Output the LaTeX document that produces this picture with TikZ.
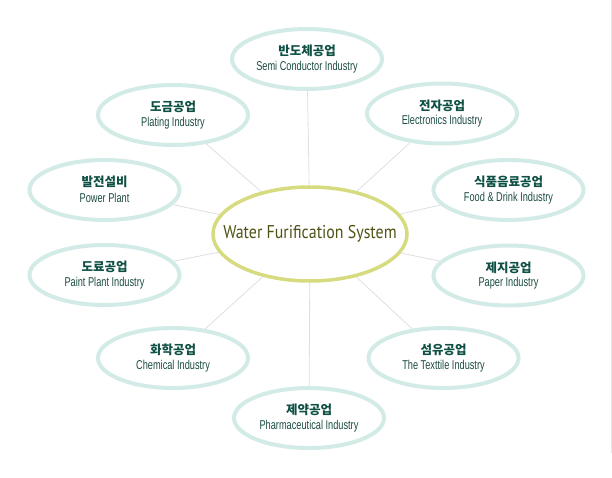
\documentclass[tikz,border=0pt]{standalone}
\usepackage{fontspec}
\usetikzlibrary{shapes.geometric,calc,backgrounds}
\newfontfamily\krfont{Noto Sans CJK KR}
\newfontfamily\enfont{Liberation Sans}[FakeStretch=0.72]
\newfontfamily\cenfont{PT Sans}[FakeStretch=0.86]
\definecolor{ring}{HTML}{D3EBE7}
\definecolor{cring}{HTML}{D5DB7E}
\definecolor{ktext}{HTML}{0E5044}
\definecolor{etext}{HTML}{1B4B42}
\definecolor{ctext}{HTML}{505214}
\definecolor{conn}{HTML}{DFDFDF}
\tikzset{
  outer/.style={ellipse, draw=ring, line width=4pt, minimum width=150pt, minimum height=60pt, inner sep=0pt},
  central/.style={ellipse, draw=cring, line width=3.5pt, minimum width=194pt, minimum height=94pt, inner sep=0pt},
  ctitle/.style={text=ctext, font=\cenfont\fontsize{18.5}{20}\selectfont, inner sep=0pt},
  kr/.style={text=ktext, font=\krfont\bfseries\fontsize{12.5}{14}\selectfont, inner sep=0pt},
  en/.style={text=etext, font=\enfont\fontsize{12.8}{14}\selectfont, inner sep=0pt},
  link/.style={draw=conn, line width=0.8pt}
}
\begin{document}
\begin{tikzpicture}[x=1pt,y=-1pt]
\useasboundingbox (0,0) rectangle (612,477);
\draw[draw=conn!80, line width=0.8pt] (611.4,0) -- (611.4,453);

\node[central] (c) at (310,234) {};
\node[ctitle] (ct) at (c.center) {Water Furification System};

\node[outer] (e1) at (307,59) {};
\node[outer] (e2) at (442,113.5) {};
\node[outer] (e3) at (508.5,190) {};
\node[outer] (e4) at (508.5,275.5) {};
\node[outer] (e5) at (443.5,358) {};
\node[outer] (e6) at (309,418) {};
\node[outer] (e7) at (173,358) {};
\node[outer] (e8) at (104.5,275) {};
\node[outer] (e9) at (104.5,190) {};
\node[outer] (e10) at (173,115) {};

\begin{scope}[on background layer]
\foreach \n in {e1,e2,e3,e4,e5,e6,e7,e8,e9,e10}
  \draw[link] (c) -- (\n);
\end{scope}

\node[kr] (k1) at ($(e1)+(0,-8)$) {반도체공업};
\node[en] (t1) at ($(e1)+(0,8)$) {Semi Conductor Industry};
\node[kr] (k2) at ($(e2)+(0,-8)$) {전자공업};
\node[en] (t2) at ($(e2)+(0,8)$) {Electronics Industry};
\node[kr] (k3) at ($(e3)+(0,-8)$) {식품음료공업};
\node[en] (t3) at ($(e3)+(0,8)$) {Food \& Drink Industry};
\node[kr] (k4) at ($(e4)+(0,-8)$) {제지공업};
\node[en] (t4) at ($(e4)+(0,8)$) {Paper Industry};
\node[kr] (k5) at ($(e5)+(0,-8)$) {섬유공업};
\node[en] (t5) at ($(e5)+(0,8)$) {The Texttile Industry};
\node[kr] (k6) at ($(e6)+(0,-8)$) {제약공업};
\node[en] (t6) at ($(e6)+(0,8)$) {Pharmaceutical Industry};
\node[kr] (k7) at ($(e7)+(0,-8)$) {화학공업};
\node[en] (t7) at ($(e7)+(0,8)$) {Chemical Industry};
\node[kr] (k8) at ($(e8)+(0,-8)$) {도료공업};
\node[en] (t8) at ($(e8)+(0,8)$) {Paint Plant Industry};
\node[kr] (k9) at ($(e9)+(0,-8)$) {발전설비};
\node[en] (t9) at ($(e9)+(0,8)$) {Power Plant};
\node[kr] (k10) at ($(e10)+(0,-8)$) {도금공업};
\node[en] (t10) at ($(e10)+(0,8)$) {Plating Industry};
\end{tikzpicture}
\end{document}
